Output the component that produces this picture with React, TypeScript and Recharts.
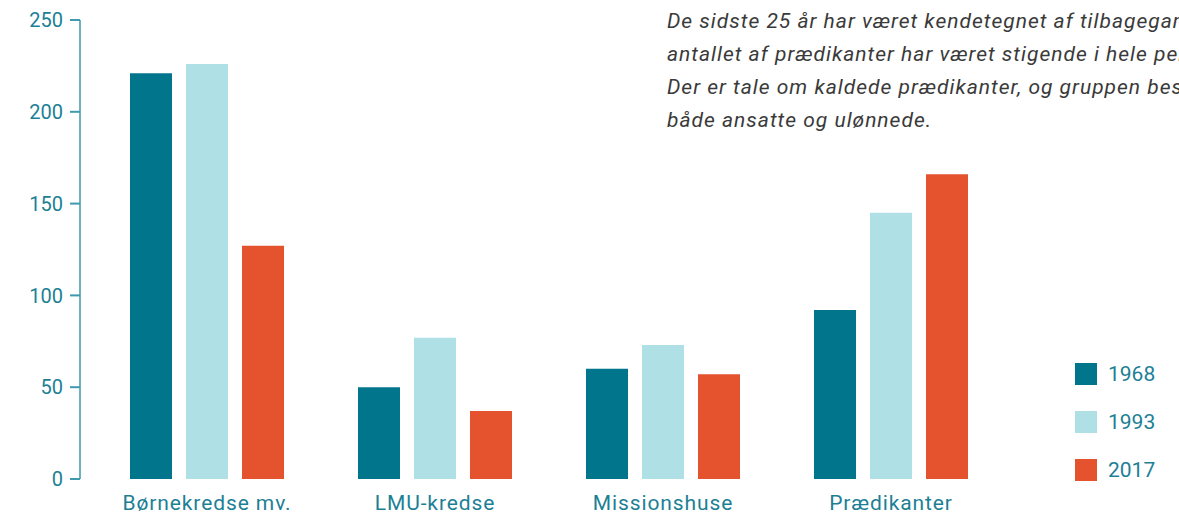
import React from 'react'
import { BarChart, Bar, XAxis, YAxis } from 'recharts'

// Data
const categories = ['Børnekredse mv.', 'LMU-kredse', 'Missionshuse', 'Prædikanter']
const values1968 = [221, 50, 60, 92]
const values1993 = [226, 77, 73, 145]
const values2017 = [127, 37, 57, 166]
const yTicks = [0, 50, 100, 150, 200, 250]

const seriesList = [
  { key: 'y1968', name: '1968', color: '#00758c' },
  { key: 'y1993', name: '1993', color: '#afe0e5' },
  { key: 'y2017', name: '2017', color: '#e4532e' },
]

// the note runs off the right edge of the picture, as in the original
const noteLines = [
  'De sidste 25 år har været kendetegnet af tilbagegang,',
  'antallet af prædikanter har været stigende i hele perioden.',
  'Der er tale om kaldede prædikanter, og gruppen består af',
  'både ansatte og ulønnede.',
]

const data = categories.map((name, i) => ({
  name,
  y1968: values1968[i],
  y1993: values1993[i],
  y2017: values2017[i],
}))

const FONT = 'Roboto, sans-serif'
const TEAL_TEXT = '#1c8095'

const App = () => {
  return (
    <div style={{ position: 'absolute', left: 0, top: 0, width: 1179, height: 518, overflow: 'hidden', background: '#fff', fontFamily: FONT }}>
      <BarChart
        width={1179}
        height={518}
        data={data}
        margin={{ top: 20, right: 174, bottom: 0, left: 0 }}
        barSize={42}
        barGap={14}
        barCategoryGap={37}
      >
        <XAxis
          dataKey="name"
          axisLine={false}
          tickLine={false}
          height={39}
          padding={{ left: 13, right: 0 }}
          tick={{ fill: TEAL_TEXT, fontSize: 21, fontFamily: FONT, letterSpacing: 0.9 }}
          tickMargin={10}
        />
        <YAxis
          domain={[0, 250]}
          ticks={yTicks}
          width={80}
          interval={0}
          axisLine={{ stroke: '#6bb3c1', strokeWidth: 2 }}
          tickLine={{ stroke: '#3f9aad', strokeWidth: 2 }}
          tickSize={10}
          tickMargin={7}
          tick={{ fill: TEAL_TEXT, fontSize: 20, fontFamily: FONT }}
        />
        {seriesList.map(s => (
          <Bar key={s.key} dataKey={s.key} name={s.name} fill={s.color} isAnimationActive={false} />
        ))}
      </BarChart>

      {/* legend */}
      <div style={{ position: 'absolute', left: 1075, top: 362 }}>
        {seriesList.map(s => (
          <div key={s.key} style={{ display: 'flex', alignItems: 'center', height: 48 }}>
            <div style={{ width: 22, height: 22, background: s.color, marginTop: -24 }} />
            <span style={{ marginLeft: 11, marginTop: -24, fontSize: 21, color: TEAL_TEXT }}>{s.name}</span>
          </div>
        ))}
      </div>

      {/* note text */}
      <div style={{ position: 'absolute', left: 667, top: 5, whiteSpace: 'nowrap', fontStyle: 'italic', fontSize: 21, letterSpacing: 1.0, lineHeight: '33px', color: '#3a3a3a' }}>
        {noteLines.map((line, i) => (
          <div key={i}>{line}</div>
        ))}
      </div>
    </div>
  )
}

export default App
